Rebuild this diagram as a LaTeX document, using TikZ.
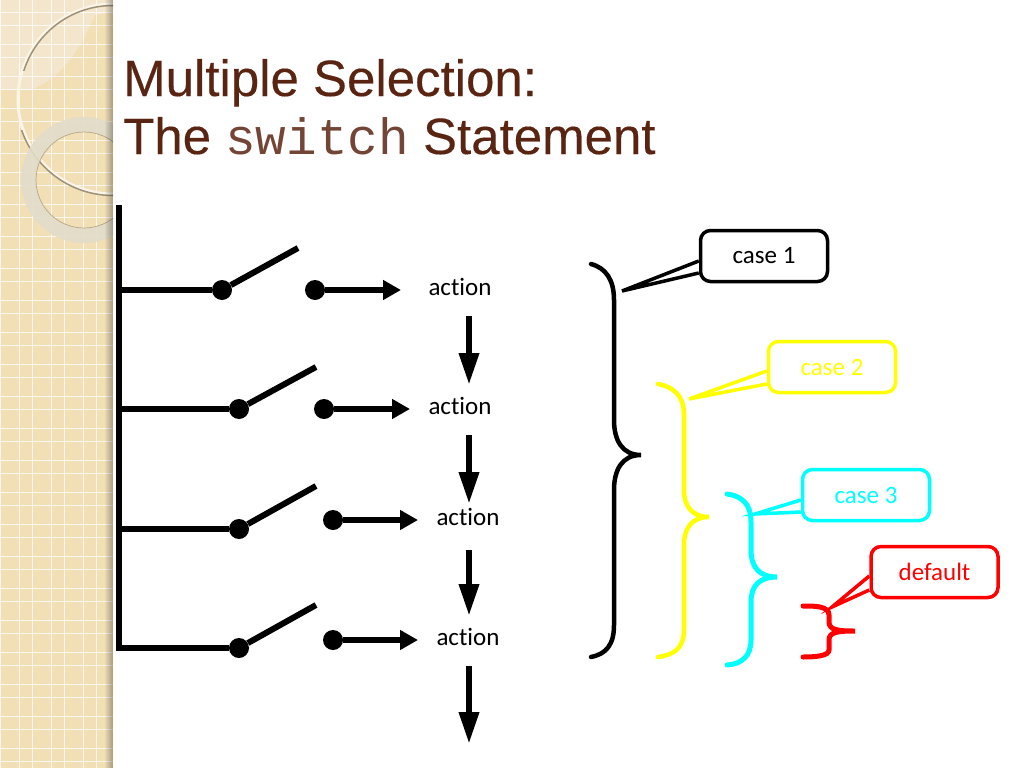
\documentclass[tikz,border=0pt]{standalone}
\usepackage{fontspec}
\setmainfont[Ligatures=NoCommon]{Carlito}
\newfontfamily\titlefont[FakeBold=0.25]{Liberation Sans}
\newfontfamily\codefont{Liberation Mono}
\usetikzlibrary{arrows.meta}
\definecolor{paneltan}{HTML}{F2DFB6}
\definecolor{panellight}{HTML}{F3E6CC}
\definecolor{ringgrey}{HTML}{E2DCCB}
\definecolor{titlebrown}{HTML}{5A2412}
\definecolor{caseyellow}{HTML}{FFFF00}
\definecolor{casecyan}{HTML}{00FFFF}
\definecolor{casered}{HTML}{FF0000}
\tikzset{
    pole/.style={line width=6pt},
    contact/.style={circle, fill=black, inner sep=0pt, minimum size=20pt},
    flow/.style={line width=6pt, -{Triangle[length=18pt, width=19pt]}},
    down/.style={line width=6.5pt, -{Triangle[length=32pt, width=19pt]}},
    action/.style={font=\fontsize{25}{25}\selectfont, inner sep=0pt},
    brace/.style={line width=4.5pt, line cap=round},
    callbox/.style={draw, fill=white, line width=3.5pt, rounded corners=10pt, minimum width=127pt,
        minimum height=51pt, inner sep=0pt, font=\fontsize{25}{25}\selectfont},
    titletext/.style={anchor=base west, inner sep=0pt, text=titlebrown, font=\fontsize{51}{51}\selectfont\titlefont},
}
\begin{document}
\begin{tikzpicture}[x=1pt, y=-1pt]
    \useasboundingbox (0,0) rectangle (1024,768);
    % side panel
    \fill[white] (0,0) rectangle (1024,768);
    \fill[paneltan] (0,0) rectangle (113,768);
    \fill[panellight] (0,0) -- (113,0) -- (113,12) -- (95,15) .. controls (80,50) and (60,80) .. (30,90) -- (0,90) -- cycle;
    \foreach \k in {0,...,3} {
        \draw[white, opacity=0.8, line width=1.2pt] (-12.5+32*\k,0) -- (-12.5+32*\k,768);
        \draw[white, opacity=0.8, line width=1.2pt] (0.5+32*\k,0) -- (0.5+32*\k,768);
    }
    \foreach \k in {0,...,24} {
        \draw[white, opacity=0.8, line width=1.2pt] (0,12.7+32*\k) -- (113,12.7+32*\k);
        \draw[white, opacity=0.8, line width=1.2pt] (0,25.5+32*\k) -- (113,25.5+32*\k);
    }
    \begin{scope}
        \clip (0,0) rectangle (113,768);
        \draw[white!70!paneltan, line width=3pt] (113,99) circle (95);
        \begin{scope}
            \clip (0,0) rectangle (113,70);
            \draw[black!35!paneltan, line width=1.5pt] (113,99) circle (93.5);
        \end{scope}
        \begin{scope}
            \clip (0,130) rectangle (113,200);
            \draw[black!35!paneltan, line width=1.5pt] (113,99) circle (96.5);
        \end{scope}
        \fill[ringgrey, opacity=0.9, even odd rule] (84,180) circle (63) (84,180) circle (48);
        \draw[black!25!paneltan, line width=0.7pt] (84,180) circle (48);
    \end{scope}
    \foreach \k in {1,...,8}
        \fill[black, opacity=0.035*\k] (104+\k,0) rectangle (105+\k,768);

    % title
    \node[titletext] (titlea) at (123,96) {Multiple Selection:};
    \node[titletext] (titleb) at (123,154) {The {\codefont\color{titlebrown!85!white}switch} Statement};

    % switches
    \draw[pole] (119,205) -- (119,651);
    \foreach \n/\xa/\ya/\xb/\yb/\xc/\yc/\xd/\xt/\yt in {
        a/222/290/298/248/315/290/401/460/287,
        b/239/409/316/367/324/409/410/460/406,
        c/239/529/316/486/333/520/418/468/517,
        d/239/648/316/605/333/640/418/468/637} {
        \coordinate (pole\n) at (119,\ya);
        \coordinate (lever\n) at (\xb,\yb);
        \coordinate (end\n) at (\xd,\yc);
        \node[contact] (hinge\n) at (\xa,\ya) {};
        \node[contact] (out\n) at (\xc,\yc) {};
        \node[action] (act\n) at (\xt,\yt) {action};
        \draw[pole] (pole\n) -- (hinge\n);
        \draw[pole] (hinge\n) -- (lever\n);
        \draw[flow] (out\n) -- (end\n);
    }

    % flow between actions
    \foreach \n/\ya/\yb in {a/316/385, b/435/504, c/550/616, d/666/744} {
        \coordinate (downs\n) at (469,\ya);
        \coordinate (downe\n) at (469,\yb);
        \draw[down] (downs\n) -- (downe\n);
    }

    % braces
    \draw[brace, black] (591,264) .. controls (606,268) and (614,280) .. (614,300) -- (614,420)
        .. controls (614,440) and (622,455) .. (641,455) .. controls (622,455) and (614,470) .. (614,490)
        -- (614,625) .. controls (614,645) and (606,654) .. (591,657);
    \draw[brace, caseyellow] (658,384) .. controls (674,387) and (684,396) .. (684,415) -- (684,490)
        .. controls (684,506) and (692,517) .. (709,517) .. controls (692,517) and (684,528) .. (684,545)
        -- (684,630) .. controls (684,648) and (674,655) .. (658,657);
    \draw[brace, casecyan, line width=5pt] (727,494) .. controls (742,496) and (751,504) .. (751,522) -- (751,550)
        .. controls (751,568) and (760,577) .. (777,577) .. controls (760,577) and (751,585) .. (751,602)
        -- (751,640) .. controls (751,656) and (742,664) .. (727,665);
    \draw[brace, casered, line width=5pt] (803,606) .. controls (815,606) and (829,606) .. (829,615) -- (829,622)
        .. controls (829,630) and (838,631) .. (855,631) .. controls (838,631) and (829,632) .. (829,640)
        -- (829,650) .. controls (829,656) and (815,657) .. (803,657);

    % callouts
    \foreach \n/\c/\x/\y/\t/\xt/\yt/\ya/\yb in {
        casea/black/764/256/case 1/622/291/261/273,
        caseb/caseyellow/832/367/case 2/689/399/371/384,
        casec/casecyan/866/495/case 3/755/514/500/512,
        cased/casered/934.5/572/default/832/607/576/590} {
        \node[callbox, draw=\c, text=\c] (\n) at (\x,\y) {\t};
        \coordinate (\n tip) at (\xt,\yt);
        \coordinate (\n up) at (\n.west |- 0,\ya);
        \coordinate (\n lo) at (\n.west |- 0,\yb);
        \fill[white] (\n up) -- (\n tip) -- (\n lo) -- cycle;
        \draw[\c, line width=3.5pt, line join=miter] (\n up) -- (\n tip) -- (\n lo);
    }
\end{tikzpicture}
\end{document}
